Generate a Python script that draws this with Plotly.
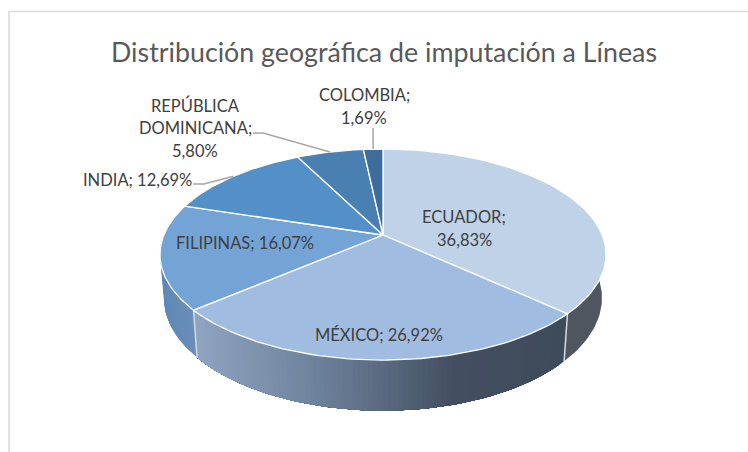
import numpy as np
import plotly.graph_objects as go

# --- data ---
countries = ["ECUADOR", "MÉXICO", "FILIPINAS", "INDIA", "REPÚBLICA DOMINICANA", "COLOMBIA"]
shares = [36.83, 26.92, 16.07, 12.69, 5.80, 1.69]
title_text = "Distribución geográfica de imputación a Líneas"

# --- style ---
top_colors = ["#BFD2E8", "#A0BCE0", "#74A4D6", "#5390C8", "#4A7FB2", "#3D6E9B"]
FONT = "Lato"
W, H = 748, 452
CX = 383
K = 0.185
TOP = dict(A=219.2, B=101.9, Y=235.0)
BOT = dict(A=215.2, B=108.8, Y=277.15)


def rim(theta, p):
    u, v = np.sin(theta), np.cos(theta)
    w = 1 + K * v
    return CX + p["A"] * u / w, p["Y"] - p["B"] * v / w


def lerp_hex(stops, t):
    ts = [s[0] for s in stops]
    rgb = [np.interp(t, ts, [int(s[1][i:i + 2], 16) for s in stops]) for i in (1, 3, 5)]
    return "rgb(%d,%d,%d)" % tuple(int(round(c)) for c in rgb)


edges = 2 * np.pi * np.cumsum([0] + shares) / sum(shares)
fig = go.Figure()


def poly(x, y, fill, line=None, width=0.0):
    fig.add_trace(go.Scatter(x=x, y=y, mode="lines", fill="toself", fillcolor=fill,
                             line=dict(color=line or fill, width=width),
                             hoverinfo="skip", showlegend=False))


def wall(t0, t1, stops, n):
    """Each band runs on to t1 and the next one paints over it, so no gaps open between bands."""
    ts = np.linspace(t0, t1, n + 1)
    for a, b in zip(ts[:-1], ts[1:]):
        th = np.linspace(a, t1, max(4, int((t1 - a) / 0.02)))
        xt, yt = rim(th, TOP)
        xb, yb = rim(th[::-1], BOT)
        col = lerp_hex(stops, (np.mean(rim(np.array([a, b]), TOP)[0]) - 195) / (567 - 195))
        poly(list(xt) + list(xb), list(yt) + list(yb), col)


# side walls (only the front half of the cylinder is seen)
wall(np.pi / 2, edges[1], [(0, "#50565F"), (1, "#50565F")], 1)
wall(edges[2], 1.5 * np.pi, [(-0.1, "#5F88B6"), (0.0, "#6A8FBA")], 12)
wall(edges[1], edges[2], [(0, "#8FA4C2"), (0.33, "#6E819B"), (0.7, "#434F60"), (1, "#3E4B5B")], 90)

# seams on the wall
for e in edges[1:3]:
    xt, yt = rim(np.array([e]), TOP)
    xb, yb = rim(np.array([e]), BOT)
    fig.add_trace(go.Scatter(x=[xt[0], xb[0]], y=[yt[0], yb[0]], mode="lines",
                             line=dict(color="#D5DAE0", width=1.5),
                             hoverinfo="skip", showlegend=False))

# top surface
for i, c in enumerate(top_colors):
    th = np.linspace(edges[i], edges[i + 1], 80)
    x, y = rim(th, TOP)
    poly([CX] + list(x) + [CX], [TOP["Y"]] + list(y) + [TOP["Y"]], c, "#FFFFFF", 1.3)

# leader lines, anchored at each slice's mid-angle on the rim
mids = (edges[:-1] + edges[1:]) / 2
leaders = {3: [(193, 184), (204, 184)], 4: [(253, 133), (263, 133)], 5: [(373, 128)]}
for i, pts in leaders.items():
    mx, my = rim(np.array([mids[i]]), TOP)
    fig.add_trace(go.Scatter(x=[p[0] for p in pts] + [mx[0]], y=[p[1] for p in pts] + [my[0]],
                             mode="lines", line=dict(color="#A6A6A6", width=1.5),
                             hoverinfo="skip", showlegend=False))

# labels: one entry per text line
pct = [f"{s:.2f}".replace(".", ",") + "%" for s in shares]
label_lines = [
    [(464, 217, f"{countries[0]};"), (464, 240, pct[0])],
    [(378.5, 335, f"{countries[1]}; {pct[1]}")],
    [(245, 243, f"{countries[2]}; {pct[2]}")],
    [(137.5, 180, f"{countries[3]}; {pct[3]}")],
    [(195, 105, "REPÚBLICA"), (195, 128, "DOMINICANA;"), (195, 151, pct[4])],
    [(364, 95, f"{countries[5]};"), (364, 118, pct[5])],
]
annotations = [dict(x=x, y=y, text=t, showarrow=False, xref="x", yref="y",
                    font=dict(family=FONT, size=16.5, color="#404040"))
               for group in label_lines for x, y, t in group]
annotations.append(dict(x=384, y=52, text=title_text, showarrow=False, xref="x", yref="y",
                        font=dict(family=FONT, size=26.8, color="#595959")))

fig.update_layout(
    width=W, height=H, margin=dict(l=0, r=0, t=0, b=0),
    paper_bgcolor="white", plot_bgcolor="white", showlegend=False,
    xaxis=dict(range=[0, W], visible=False, fixedrange=True),
    yaxis=dict(range=[H, 0], visible=False, fixedrange=True),
    annotations=annotations,
    shapes=[dict(type="rect", xref="x", yref="y", x0=9, y0=11.5, x1=W + 10, y1=H + 10,
                 line=dict(color="#D9D9D9", width=1.5), fillcolor="rgba(0,0,0,0)", layer="below")],
)
fig.write_html("out.html", config=dict(displayModeBar=False),
               post_script="document.body.style.margin='0';")
